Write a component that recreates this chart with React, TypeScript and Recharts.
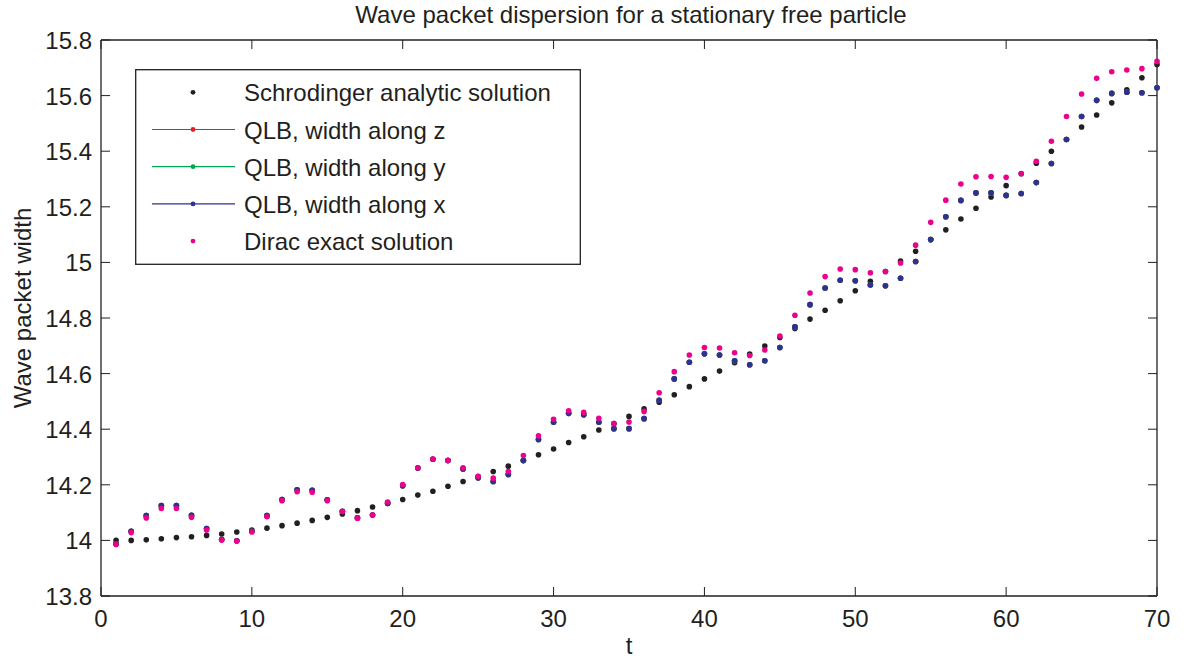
import { ComposedChart, Line, XAxis, YAxis, Legend } from 'recharts';

const FONT = '"Liberation Sans", Arial, Helvetica, sans-serif';
const INK = '#231f20';

// time steps (t)
const steps = [
  1, 2, 3, 4, 5, 6, 7, 8, 9, 10, 11, 12, 13, 14, 15, 16, 17, 18, 19, 20,
  21, 22, 23, 24, 25, 26, 27, 28, 29, 30, 31, 32, 33, 34, 35, 36, 37, 38, 39, 40,
  41, 42, 43, 44, 45, 46, 47, 48, 49, 50, 51, 52, 53, 54, 55, 56, 57, 58, 59, 60,
  61, 62, 63, 64, 65, 66, 67, 68, 69, 70,
];

const schrodinger = [
  14.0, 14.0, 14.002, 14.006, 14.01, 14.013, 14.018, 14.023, 14.03, 14.037,
  14.044, 14.053, 14.062, 14.072, 14.083, 14.095, 14.107, 14.12, 14.135, 14.147,
  14.163, 14.177, 14.195, 14.212, 14.23, 14.248, 14.267, 14.287, 14.308, 14.329,
  14.352, 14.373, 14.397, 14.42, 14.446, 14.473, 14.497, 14.524, 14.553, 14.581,
  14.609, 14.639, 14.67, 14.699, 14.73, 14.762, 14.796, 14.828, 14.862, 14.898,
  14.932, 14.967, 15.005, 15.04, 15.082, 15.117, 15.156, 15.195, 15.235, 15.276,
  15.319, 15.357, 15.4, 15.442, 15.487, 15.53, 15.574, 15.621, 15.664, 15.712,
];

// the three QLB widths (x, y, z) sit on top of each other
const qlbWidth = [
  13.988, 14.033, 14.089, 14.125, 14.125, 14.09, 14.043, 14.003, 13.999, 14.033,
  14.089, 14.147, 14.182, 14.18, 14.146, 14.105, 14.081, 14.091, 14.133, 14.197,
  14.26, 14.292, 14.287, 14.257, 14.225, 14.212, 14.237, 14.287, 14.363, 14.425,
  14.457, 14.452, 14.425, 14.402, 14.402, 14.438, 14.504, 14.581, 14.641, 14.671,
  14.667, 14.646, 14.632, 14.646, 14.694, 14.768, 14.848, 14.908, 14.936, 14.934,
  14.919, 14.916, 14.943, 15.003, 15.082, 15.164, 15.223, 15.25, 15.25, 15.241,
  15.248, 15.287, 15.356, 15.442, 15.525, 15.583, 15.608, 15.612, 15.61, 15.628,
];

const dirac = [
  13.985, 14.028, 14.081, 14.115, 14.115, 14.083, 14.037, 14.001, 13.998, 14.03,
  14.085, 14.143, 14.175, 14.173, 14.143, 14.104, 14.08, 14.091, 14.138, 14.201,
  14.261, 14.293, 14.288, 14.261, 14.231, 14.224, 14.248, 14.305, 14.376, 14.436,
  14.466, 14.461, 14.439, 14.42, 14.426, 14.464, 14.531, 14.607, 14.667, 14.694,
  14.692, 14.675, 14.665, 14.685, 14.735, 14.81, 14.89, 14.949, 14.976, 14.974,
  14.963, 14.967, 14.998, 15.062, 15.144, 15.224, 15.282, 15.308, 15.309, 15.306,
  15.32, 15.364, 15.436, 15.525, 15.606, 15.662, 15.686, 15.692, 15.697, 15.723,
];

const xTicks = [0, 10, 20, 30, 40, 50, 60, 70];
const yTicks = [13.8, 14, 14.2, 14.4, 14.6, 14.8, 15, 15.2, 15.4, 15.6, 15.8];

const legendItems = [
  { label: 'Schrodinger analytic solution', color: INK, line: false },
  { label: 'QLB, width along z', color: '#ed1c24', line: true },
  { label: 'QLB, width along y', color: '#00a651', line: true },
  { label: 'QLB, width along x', color: '#2e3192', line: true },
  { label: 'Dirac exact solution', color: '#ec008c', line: false },
];

const data = steps.map((t, i) => ({
  t,
  schrodinger: schrodinger[i],
  qlbZ: qlbWidth[i],
  qlbY: qlbWidth[i],
  qlbX: qlbWidth[i],
  dirac: dirac[i],
}));

const series = [
  { key: 'schrodinger', color: INK },
  { key: 'qlbZ', color: '#ed1c24' },
  { key: 'qlbY', color: '#00a651' },
  { key: 'qlbX', color: '#2e3192' },
  { key: 'dirac', color: '#ec008c' },
];

const TICK_LEN = 9;
const FS = 24;

function BottomTick({ x, y, payload }: any) {
  return (
    <g>
      <line x1={x} x2={x} y1={y} y2={y - TICK_LEN} stroke={INK} strokeWidth={1} />
      <text x={x} y={y + 31} textAnchor="middle" fontSize={FS} fill={INK} fontFamily={FONT}>
        {String(payload.value)}
      </text>
    </g>
  );
}

function TopTick({ x, y }: any) {
  return <line x1={x} x2={x} y1={y} y2={y + TICK_LEN} stroke={INK} strokeWidth={1} />;
}

function LeftTick({ x, y, payload }: any) {
  return (
    <g>
      <line x1={x} x2={x + TICK_LEN} y1={y} y2={y} stroke={INK} strokeWidth={1} />
      <text x={x - 9} y={y + 9} textAnchor="end" fontSize={FS} fill={INK} fontFamily={FONT}>
        {String(payload.value)}
      </text>
    </g>
  );
}

function RightTick({ x, y }: any) {
  return <line x1={x} x2={x - TICK_LEN} y1={y} y2={y} stroke={INK} strokeWidth={1} />;
}

function LegendBox() {
  const rowGap = 37.2;
  return (
    <svg width={446} height={196} style={{ display: 'block' }}>
      <rect x={0.7} y={0.7} width={444.6} height={194.6} fill="#fff" stroke={INK} strokeWidth={1.3} />
      {legendItems.map((item, i) => {
        const cy = 23.3 + i * rowGap;
        return (
          <g key={item.label}>
            {item.line && <line x1={17} x2={100} y1={cy} y2={cy} stroke={item.color} strokeWidth={1.2} />}
            <circle cx={58} cy={cy} r={2.4} fill={item.color} />
            <text x={109} y={cy + 9} fontSize={FS} fill={INK} fontFamily={FONT}>
              {item.label}
            </text>
          </g>
        );
      })}
    </svg>
  );
}

const axisLine = { stroke: INK, strokeWidth: 1.3 };

export default function App() {
  return (
    <div style={{ position: 'absolute', left: 0, top: 0, width: 1186, height: 660, background: '#fff' }}>
      <ComposedChart width={1186} height={660} data={data} margin={{ top: 39, right: 28, bottom: 0, left: 0 }}>
        <XAxis
          dataKey="t"
          type="number"
          domain={[0, 70]}
          ticks={xTicks}
          height={64}
          tickSize={0}
          tickMargin={0}
          tickLine={false}
          axisLine={axisLine}
          tick={BottomTick}
          interval={0}
        />
        <XAxis
          xAxisId="top"
          dataKey="t"
          orientation="top"
          type="number"
          domain={[0, 70]}
          ticks={xTicks}
          height={1}
          tickSize={0}
          tickMargin={0}
          tickLine={false}
          axisLine={axisLine}
          tick={TopTick}
          interval={0}
        />
        <YAxis
          type="number"
          domain={[13.8, 15.8]}
          ticks={yTicks}
          width={101}
          tickSize={0}
          tickMargin={0}
          tickLine={false}
          axisLine={axisLine}
          tick={LeftTick}
          interval={0}
        />
        <YAxis
          yAxisId="right"
          orientation="right"
          type="number"
          domain={[13.8, 15.8]}
          ticks={yTicks}
          width={1}
          tickSize={0}
          tickMargin={0}
          tickLine={false}
          axisLine={axisLine}
          tick={RightTick}
          interval={0}
        />
        <Legend
          layout="vertical"
          align="center"
          verticalAlign="middle"
          content={() => <LegendBox />}
          wrapperStyle={{ left: 135, top: 69, width: 446, height: 196 }}
        />
        {/* invisible series so the mirrored top/right axes get drawn */}
        <Line
          xAxisId="top"
          yAxisId="right"
          dataKey="schrodinger"
          stroke="none"
          dot={false}
          activeDot={false}
          legendType="none"
          isAnimationActive={false}
        />
        {series.map((s) => (
          <Line
            key={s.key}
            dataKey={s.key}
            stroke="none"
            dot={{ r: 2.8, fill: s.color, stroke: 'none' }}
            activeDot={false}
            isAnimationActive={false}
          />
        ))}
      </ComposedChart>
      <svg
        width={1186}
        height={660}
        style={{ position: 'absolute', left: 0, top: 0, pointerEvents: 'none' }}
      >
        <text x={631} y={23} textAnchor="middle" fontSize={FS} fill={INK} fontFamily={FONT}>
          Wave packet dispersion for a stationary free particle
        </text>
        <text x={629} y={654} textAnchor="middle" fontSize={FS} fill={INK} fontFamily={FONT}>
          t
        </text>
        <text
          transform="translate(31,308) rotate(-90)"
          textAnchor="middle"
          fontSize={FS}
          fill={INK}
          fontFamily={FONT}
        >
          Wave packet width
        </text>
      </svg>
    </div>
  );
}
